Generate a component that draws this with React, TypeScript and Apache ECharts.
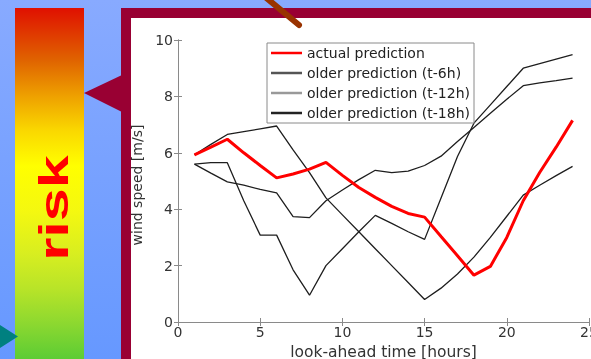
import React, { useEffect, useRef } from "react";
import * as echarts from "echarts";

const hours = [1, 2, 3, 4, 5, 6, 7, 8, 9, 10, 11, 12, 13, 14, 15, 16, 17, 18, 19, 20, 21, 22, 23, 24];
const actualPrediction = [5.93, 6.2, 6.48, 6.0, 5.55, 5.11, 5.25, 5.42, 5.66, 5.2, 4.77, 4.42, 4.1, 3.85, 3.72, 3.03, 2.35, 1.66, 1.97, 3.0, 4.3, 5.3, 6.2, 7.15];
const olderT6 = [5.6, 5.28, 4.97, 4.85, 4.7, 4.58, 3.74, 3.7, 4.3, 4.68, 5.05, 5.38, 5.3, 5.35, 5.55, 5.88, 6.4, 6.9, 7.4, 7.9, 8.38, 8.48, 8.56, 8.65];
const olderT12 = [5.93, 6.3, 6.65, 6.75, 6.85, 6.95, 6.1, 5.3, 4.4, 3.8, 3.2, 2.6, 2.0, 1.4, 0.8, 1.2, 1.7, 2.3, 3.0, 3.75, 4.5, 4.85, 5.19, 5.52];
const olderT18 = [5.6, 5.65, 5.65, 4.3, 3.08, 3.08, 1.85, 0.95, 2.0, 2.6, 3.2, 3.78, 3.5, 3.2, 2.93, 4.4, 5.87, 7.05, 7.7, 8.35, 9.0, 9.16, 9.32, 9.48];
const seriesNames = ["actual prediction", "older prediction (t-6h)", "older prediction (t-12h)", "older prediction (t-18h)"];
const xTicks = { min: 0, max: 25, interval: 5 };
const yTicks = { min: 0, max: 10, interval: 2 };

const FONT = "DejaVu Sans";

export default function App() {
  const ref = useRef<HTMLDivElement>(null);
  useEffect(() => {
    if (!ref.current) return;
    const chart = echarts.init(ref.current, undefined, { renderer: "svg" });
    const pairs = (vals: number[]) => hours.map((h, i) => [h, vals[i]]);
    const axisCommon = {
      type: "value" as const,
      axisLine: { show: true, lineStyle: { color: "#8a8a8a", width: 1 } },
      axisTick: { show: true, inside: true, length: 4, lineStyle: { color: "#8a8a8a" } },
      splitLine: { show: false },
    };
    const labelStyle = { fontFamily: FONT, fontSize: 14, color: "#333" };
    chart.setOption({
      animation: false,
      backgroundColor: "transparent",
      graphic: [
        {
          type: "rect", z: -100,
          shape: { x: 0, y: 0, width: 591, height: 359 },
          style: {
            fill: new echarts.graphic.LinearGradient(0, 0, 0, 1, [
              { offset: 0, color: "#88aaff" },
              { offset: 1, color: "#6698ff" },
            ]),
          },
        },
        {
          type: "rect", z: -99,
          shape: { x: 15, y: 8, width: 69, height: 351 },
          style: {
            fill: new echarts.graphic.LinearGradient(0, 0, 0, 1, [
              { offset: 0, color: "#e01000" },
              { offset: 0.15, color: "#e06400" },
              { offset: 0.25, color: "#eea000" },
              { offset: 0.35, color: "#fad800" },
              { offset: 0.45, color: "#ffff00" },
              { offset: 0.58, color: "#f4f810" },
              { offset: 0.7, color: "#d8ee20" },
              { offset: 0.8, color: "#b8e428" },
              { offset: 0.9, color: "#8cd830" },
              { offset: 1, color: "#5ccc34" },
            ]),
          },
        },
        {
          type: "text", z: -98,
          x: 54, y: 208, rotation: Math.PI / 2, scaleX: 1.45,
          style: {
            text: "risk", fill: "#ff0000", fontFamily: "Liberation Sans", fontWeight: "bold", fontSize: 41,
            align: "center", verticalAlign: "middle",
          },
        },
        {
          type: "polygon", z: -98,
          shape: { points: [[84, 93], [122, 75], [122, 112]] },
          style: { fill: "#990033" },
        },
        {
          type: "polygon", z: -98,
          shape: { points: [[0, 325], [18, 336.5], [0, 348]] },
          style: { fill: "#008080" },
        },
        {
          type: "rect", z: -97,
          shape: { x: 121, y: 8, width: 500, height: 400 },
          style: { fill: "#990033" },
        },
        {
          type: "rect", z: -96,
          shape: { x: 131, y: 18, width: 500, height: 400 },
          style: { fill: "#ffffff" },
        },
        {
          type: "line", z: -95,
          shape: { x1: 264, y1: -4, x2: 299, y2: 25 },
          style: { stroke: "#993300", lineWidth: 6, lineCap: "round" },
        },
      ],
      grid: { left: 178, top: 40, right: 2, bottom: 37, containLabel: false, outerBoundsMode: "none" },
      legend: {
        orient: "vertical",
        left: 267,
        top: 43,
        padding: [0, 4, 0, 4],
        itemGap: 0,
        itemWidth: 31,
        itemHeight: 2.5,
        icon: "rect",
        backgroundColor: "#ffffff",
        borderColor: "#8a8a8a",
        borderWidth: 1,
        textStyle: { fontFamily: FONT, fontSize: 14, color: "#222", lineHeight: 20 },
        data: [
          { name: seriesNames[0], itemStyle: { color: "#ff0000" } },
          { name: seriesNames[1], itemStyle: { color: "#555555" } },
          { name: seriesNames[2], itemStyle: { color: "#999999" } },
          { name: seriesNames[3], itemStyle: { color: "#222222" } },
        ],
      },
      xAxis: [
        {
          ...axisCommon, ...xTicks, position: "bottom",
          axisLabel: { ...labelStyle, margin: 3 },
          name: "look-ahead time [hours]", nameLocation: "middle", nameGap: 15,
          nameTextStyle: { fontFamily: FONT, fontSize: 15.5, color: "#333" },
        },
        { ...axisCommon, ...xTicks, position: "top", axisLabel: { show: false } },
      ],
      yAxis: [
        {
          ...axisCommon, ...yTicks, position: "left",
          axisLabel: { ...labelStyle, margin: 5 },
          name: "wind speed [m/s]", nameLocation: "middle", nameGap: 22,
          nameTextStyle: { fontFamily: FONT, fontSize: 14, color: "#333", padding: [0, 8, 0, 0] },
        },
        { ...axisCommon, ...yTicks, position: "right", axisLabel: { show: false } },
      ],
      series: [
        { name: seriesNames[1], type: "line", data: pairs(olderT6), showSymbol: false, lineStyle: { color: "#1e1e1e", width: 1.3 }, z: 2 },
        { name: seriesNames[2], type: "line", data: pairs(olderT12), showSymbol: false, lineStyle: { color: "#1e1e1e", width: 1.3 }, z: 2 },
        { name: seriesNames[3], type: "line", data: pairs(olderT18), showSymbol: false, lineStyle: { color: "#1e1e1e", width: 1.3 }, z: 2 },
        { name: seriesNames[0], type: "line", data: pairs(actualPrediction), showSymbol: false, lineStyle: { color: "#ff0000", width: 3 }, z: 3 },
      ],
    });
    return () => chart.dispose();
  }, []);
  return <div ref={ref} style={{ position: "fixed", left: 0, top: 0, width: 591, height: 359 }} />;
}
